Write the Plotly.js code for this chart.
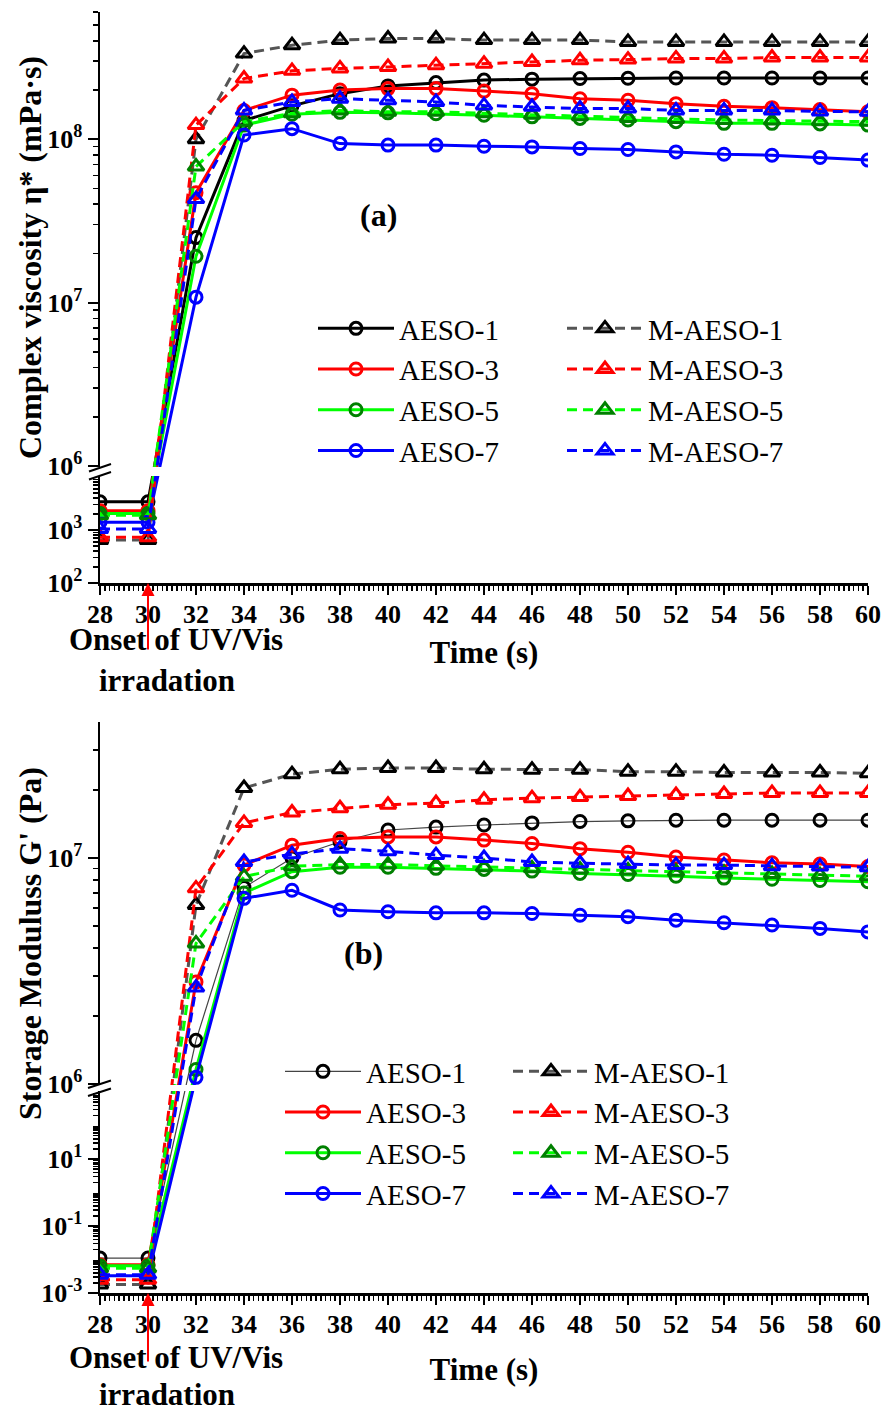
<!DOCTYPE html>
<html><head><meta charset="utf-8">
<script src="https://cdn.plot.ly/plotly-3.0.1.min.js"></script>
<style>body{margin:0;background:#fff}#chart{width:884px;height:1412px}</style>
</head><body><div id="chart"></div>
<script>
// ---------- data ----------
const time = [28,30,32,34,36,38,40,42,44,46,48,50,52,54,56,58,60];
const xTicks = [28,30,32,34,36,38,40,42,44,46,48,50,52,54,56,58,60];
const seriesNames = ['AESO-1','AESO-3','AESO-5','AESO-7','M-AESO-1','M-AESO-3','M-AESO-5','M-AESO-7'];

// (a) complex viscosity eta* (mPa·s)
const etaAESO1  = [3.4e3,3.4e3,2.5e7,1.3e8,1.6e8,1.9e8,2.12e8,2.22e8,2.3e8,2.33e8,2.35e8,2.36e8,2.37e8,2.37e8,2.37e8,2.37e8,2.37e8];
const etaAESO3  = [2.3e3,2.3e3,4.7e7,1.5e8,1.86e8,2.0e8,2.04e8,2.04e8,1.97e8,1.9e8,1.77e8,1.73e8,1.65e8,1.59e8,1.56e8,1.52e8,1.47e8];
const etaAESO5  = [2.05e3,2.05e3,1.92e7,1.22e8,1.42e8,1.46e8,1.45e8,1.43e8,1.4e8,1.37e8,1.34e8,1.31e8,1.28e8,1.25e8,1.25e8,1.24e8,1.22e8];
const etaAESO7  = [1.4e3,1.4e3,1.08e7,1.06e8,1.16e8,9.4e7,9.2e7,9.2e7,9.06e7,8.97e7,8.77e7,8.65e7,8.36e7,8.09e7,7.97e7,7.73e7,7.45e7];
const etaMAESO1 = [6.5e2,6.5e2,1.0e8,3.34e8,3.76e8,4.04e8,4.13e8,4.13e8,4.04e8,4.04e8,4.04e8,3.94e8,3.94e8,3.94e8,3.94e8,3.94e8,3.94e8];
const etaMAESO3 = [7.3e2,7.3e2,1.22e8,2.35e8,2.62e8,2.71e8,2.77e8,2.84e8,2.9e8,2.97e8,3.04e8,3.07e8,3.12e8,3.12e8,3.16e8,3.16e8,3.16e8];
const etaMAESO5 = [1.9e3,1.9e3,6.8e7,1.28e8,1.44e8,1.5e8,1.47e8,1.47e8,1.44e8,1.41e8,1.38e8,1.35e8,1.33e8,1.31e8,1.3e8,1.29e8,1.28e8];
const etaMAESO7 = [1.05e3,1.05e3,4.3e7,1.5e8,1.69e8,1.77e8,1.73e8,1.69e8,1.61e8,1.58e8,1.54e8,1.54e8,1.5e8,1.5e8,1.5e8,1.48e8,1.47e8];

// (b) storage modulus G' (Pa)
const gAESO1  = [1.1e-2,1.1e-2,1.56e6,7.4e6,1.0e7,1.18e7,1.33e7,1.37e7,1.4e7,1.43e7,1.45e7,1.46e7,1.47e7,1.47e7,1.47e7,1.47e7,1.47e7];
const gAESO3  = [7.0e-3,7.0e-3,2.83e6,9.3e6,1.14e7,1.22e7,1.24e7,1.24e7,1.2e7,1.16e7,1.1e7,1.06e7,1.01e7,9.8e6,9.53e6,9.4e6,9.16e6];
const gAESO5  = [6.5e-3,6.5e-3,1.16e6,7.0e6,8.7e6,9.1e6,9.1e6,9.0e6,8.9e6,8.75e6,8.55e6,8.45e6,8.3e6,8.15e6,8.05e6,7.95e6,7.85e6];
const gAESO7  = [3.3e-3,3.3e-3,1.07e6,6.63e6,7.2e6,5.89e6,5.78e6,5.72e6,5.72e6,5.68e6,5.58e6,5.5e6,5.31e6,5.17e6,5.05e6,4.88e6,4.71e6];
const gMAESO1 = [1.8e-3,1.8e-3,6.2e6,2.04e7,2.35e7,2.47e7,2.5e7,2.5e7,2.47e7,2.46e7,2.46e7,2.41e7,2.41e7,2.39e7,2.39e7,2.39e7,2.37e7];
const gMAESO3 = [2.5e-3,2.5e-3,7.34e6,1.43e7,1.59e7,1.66e7,1.72e7,1.75e7,1.81e7,1.84e7,1.86e7,1.88e7,1.9e7,1.92e7,1.94e7,1.94e7,1.94e7];
const gMAESO5 = [5.5e-3,5.5e-3,4.19e6,8.27e6,9.2e6,9.35e6,9.35e6,9.25e6,9.1e6,9.0e6,8.9e6,8.8e6,8.7e6,8.6e6,8.5e6,8.4e6,8.3e6];
const gMAESO7 = [3.5e-3,3.5e-3,2.67e6,9.6e6,1.04e7,1.1e7,1.07e7,1.03e7,1.0e7,9.6e6,9.48e6,9.4e6,9.3e6,9.3e6,9.2e6,9.16e6,9.1e6];

// labelled and unlabelled major ticks of the broken log axes
const aMajorVals = [1e2,1e3,1e6,1e7,1e8];
const aMajorText = ['10<sup>2</sup>','10<sup>3</sup>','10<sup>6</sup>','10<sup>7</sup>','10<sup>8</sup>'];
const aPlainMajor = [1e4];
const bMajorVals = [1e-3,1e-1,1e1,1e6,1e7];
const bMajorText = ['10<sup>-3</sup>','10<sup>-1</sup>','10<sup>1</sup>','10<sup>6</sup>','10<sup>7</sup>'];
const bPlainMajor = [1e-2,1e0,1e2,1e3];

// ---------- broken-axis scales (piecewise log) ----------
const W = 884, H = 1412;
const px = x => x / W, py = y => 1 - y / H;
function uA(v){ const L = Math.log10(v); return L < 5 ? (L - 2) * 53 : 117 + (L - 6) * 163.4; }
function uB(v){ const L = Math.log10(v); return L < 4.5 ? (L + 3) * 33.5 : 209 + (L - 6) * 226; }
function minorList(decades, maxM){
  const out = [];
  decades.forEach((d, i) => { const mm = maxM[i]; for (let m = 2; m <= mm; m++) out.push(m * Math.pow(10, d)); });
  return out;
}
const aMinor = minorList([2,3,6,7,8],[9,9,9,9,6]);
const bMinor = minorList([-3,-2,-1,0,1,2,6,7],[9,9,9,9,9,9,9,4]);

// ---------- styles ----------
const FONT = 'Liberation Serif';
const styles = [
  {line:'#000000', mk:'#000000', dash:'solid', sym:'circle-open'},
  {line:'#ff0000', mk:'#ff0000', dash:'solid', sym:'circle-open'},
  {line:'#00ff00', mk:'#008000', dash:'solid', sym:'circle-open'},
  {line:'#0000ff', mk:'#0000ff', dash:'solid', sym:'circle-open'},
  {line:'#555555', mk:'#000000', dash:'10px,6px', sym:'triangle-up-open'},
  {line:'#ff0000', mk:'#ff0000', dash:'10px,6px', sym:'triangle-up-open'},
  {line:'#00ff00', mk:'#008000', dash:'10px,6px', sym:'triangle-up-open'},
  {line:'#0000ff', mk:'#0000ff', dash:'10px,6px', sym:'triangle-up-open'}
];
const panelA = [etaAESO1,etaAESO3,etaAESO5,etaAESO7,etaMAESO1,etaMAESO3,etaMAESO5,etaMAESO7];
const panelB = [gAESO1,gAESO3,gAESO5,gAESO7,gMAESO1,gMAESO3,gMAESO5,gMAESO7];

const traces = [];
function addPanel(vals, scale, xa, ya, legs, thinFirst){
  vals.forEach((arr, i) => {
    const s = styles[i];
    const lw = (thinFirst && i === 0) ? 1.2 : 3;
    const lc = (thinFirst && i === 0) ? '#444444' : s.line;
    traces.push({
      type:'scatter', mode:'lines+markers', name: seriesNames[i],
      x: time, y: arr.map(scale), xaxis: xa, yaxis: ya,
      legend: i < 4 ? legs[0] : legs[1],
      line:{color: lc, width: lw, dash: s.dash},
      marker:{symbol: s.sym, size: s.sym === 'circle-open' ? 12 : 14, color: s.mk, line:{color: s.mk, width: 3}},
      hoverinfo:'skip'
    });
  });
}
addPanel(panelA, uA, 'x', 'y', ['legend','legend2'], false);
addPanel(panelB, uB, 'x2', 'y2', ['legend3','legend4'], true);

const tickFont = () => ({family: FONT, size: 26, weight: 'bold', color: '#000'});
function xAxis(anchor, title, standoff){
  return {
    domain:[px(100), px(868)], range:[28,60], anchor: anchor,
    tickmode:'array', tickvals: xTicks, ticktext: xTicks.map(String),
    ticks:'outside', ticklen:9, tickwidth:2, tickcolor:'#000', ticklabelstandoff:-3,
    minor:{tickmode:'linear', tick0:28, dtick:0.2, ticks:'outside', ticklen:5, tickwidth:1.5, tickcolor:'#000'},
    showline:true, linewidth:2.5, linecolor:'#000', showgrid:false, zeroline:false,
    tickfont: tickFont(), automargin:false,
    title:{text: title, font:{family: FONT, size: 31, weight:'bold', color:'#000'}, standoff: standoff}
  };
}
function yAxis(anchor, dom, vals, text, minor, scale){
  return {
    domain: dom, range:[0,571], anchor: anchor,
    tickmode:'array', tickvals: vals.map(scale), ticktext: text,
    ticks:'outside', ticklen:10, tickwidth:2, tickcolor:'#000',
    minor:{tickmode:'array', tickvals: minor.map(scale), ticks:'outside', ticklen:5, tickwidth:1.5, tickcolor:'#000'},
    showline:true, linewidth:2.5, linecolor:'#000', showgrid:false, zeroline:false,
    tickfont: tickFont(), automargin:false
  };
}
// overlay axes carrying only the unlabelled decade ticks
function yTickOnly(over, vals, scale){
  return {overlaying: over, anchor: over === 'y' ? 'x' : 'x2', side:'left', range:[0,571],
    tickmode:'array', tickvals: vals.map(scale), showticklabels:false,
    ticks:'outside', ticklen:10, tickwidth:2, tickcolor:'#000',
    showline:false, showgrid:false, zeroline:false, automargin:false};
}
function leg(x, y){ return {x: px(x), y: py(y), xanchor:'left', yanchor:'top', font:{family: FONT, size: 29, color:'#000'},
  bgcolor:'rgba(0,0,0,0)', borderwidth:0, itemwidth:76, tracegroupgap:0, traceorder:'normal'}; }

const annFont = (sz) => ({family: FONT, size: sz, weight:'bold', color:'#000'});
function ann(text, x, y, sz, angle){
  return {text: text, x: px(x), y: py(y), xref:'paper', yref:'paper', xanchor:'center', yanchor:'middle',
          textangle: angle || 0, showarrow:false, font: annFont(sz)};
}
const annotations = [
  ann('Complex viscosity η* (mPa·s)', 30, 258, 32, -90),
  ann("Storage Moduluss G' (Pa)", 30, 944, 32, -90),
  ann('(a)', 378, 215, 32),
  ann('(b)', 363, 953, 32),
  ann('Onset of UV/Vis', 176, 639, 31),
  ann('irradation', 167, 680, 31),
  ann('Onset of UV/Vis', 176, 1357, 31),
  ann('irradation', 167, 1394, 31),
  {text:'', x:30, y:0, xref:'x', yref:'y', showarrow:true, ax:0, ay:68, arrowcolor:'#ff0000', arrowwidth:2, arrowhead:2, arrowsize:1.3, standoff:0},
  {text:'', x:30, y:0, xref:'x2', yref:'y2', showarrow:true, ax:0, ay:70, arrowcolor:'#ff0000', arrowwidth:2, arrowhead:2, arrowsize:1.3, standoff:0}
];

const shapes = [
  // white gaps of the broken axes
  {type:'rect', xref:'paper', yref:'y', x0:px(91), x1:px(232), y0:107, y1:116, fillcolor:'#fff', line:{width:0}, layer:'above'},
  {type:'rect', xref:'paper', yref:'y2', x0:px(91), x1:px(232), y0:202, y1:208, fillcolor:'#fff', line:{width:0}, layer:'above'},
  // break marks
  {type:'line', xref:'paper', yref:'paper', x0:px(89), y0:py(471.5), x1:px(111), y1:py(464), line:{color:'#000', width:2}, layer:'above'},
  {type:'line', xref:'paper', yref:'paper', x0:px(89), y0:py(479.5), x1:px(111), y1:py(472), line:{color:'#000', width:2}, layer:'above'},
  {type:'line', xref:'paper', yref:'paper', x0:px(88), y0:py(1088), x1:px(111), y1:py(1080.5), line:{color:'#000', width:2}, layer:'above'},
  {type:'line', xref:'paper', yref:'paper', x0:px(88), y0:py(1096), x1:px(111), y1:py(1088.5), line:{color:'#000', width:2}, layer:'above'}
];

const layout = {
  width: W, height: H, margin:{l:0, r:0, t:0, b:0},
  paper_bgcolor:'#fff', plot_bgcolor:'#fff', showlegend:true,
  font:{family: FONT, color:'#000'},
  xaxis: xAxis('y', 'Time (s)', 14),
  yaxis: yAxis('x', [py(583), py(12)], aMajorVals, aMajorText, aMinor, uA),
  xaxis2: xAxis('y2', 'Time (s)', 21),
  yaxis2: yAxis('x2', [py(1293), py(722)], bMajorVals, bMajorText, bMinor, uB),
  yaxis3: yTickOnly('y', aPlainMajor, uA),
  yaxis4: yTickOnly('y2', bPlainMajor, uB),
  legend: leg(313, 303), legend2: leg(562, 303),
  legend3: leg(280, 1046), legend4: leg(508, 1046),
  annotations: annotations, shapes: shapes
};
Plotly.newPlot('chart', traces, layout, {staticPlot:true, displayModeBar:false});
</script>
</body></html>
